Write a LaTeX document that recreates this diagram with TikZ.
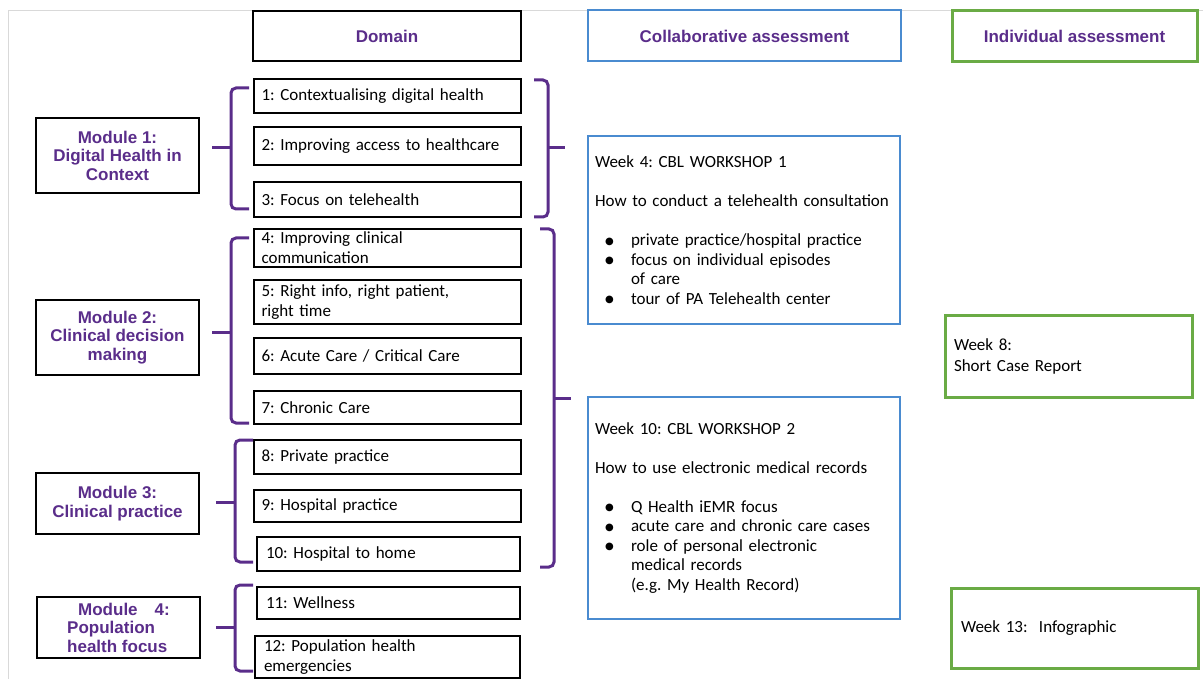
\documentclass[tikz,border=0pt]{standalone}
\usepackage{fontspec}
\setmainfont{Carlito}
\newfontfamily\headfont{Liberation Sans}
\newfontfamily\symfont{DejaVu Sans}
\frenchspacing
\definecolor{modpurple}{HTML}{5A2D8A}
\definecolor{colblue}{HTML}{4A8BD0}
\definecolor{indgreen}{HTML}{6AAB45}
\newcommand\bul{\hspace*{10pt}\makebox[26pt][l]{\raisebox{1.5pt}{\symfont\fontsize{10}{12}\selectfont ●}}}
\newcommand\bulind{\hspace*{36pt}}
\tikzset{
  head/.style={draw,line width=2pt,minimum height=50,text=modpurple,font=\headfont\bfseries\fontsize{17}{19}\selectfont},
  dom/.style={draw,line width=2pt,text width=251,inner xsep=8,inner ysep=0,align=left,font=\fontsize{17}{20}\selectfont},
  modbox/.style={draw,line width=2pt,minimum width=163,align=center,text=modpurple,font=\headfont\bfseries\fontsize{17}{18.5}\selectfont},
  week/.style={draw=colblue,line width=2pt,minimum width=312,text width=298,inner xsep=7,align=left,font=\fontsize{17}{19.5}\selectfont},
  task/.style={draw=indgreen,line width=3pt,align=left,font=\fontsize{17}{20.5}\selectfont},
  brk/.style={modpurple,line width=3pt,rounded corners=5}
}
\begin{document}
\begin{tikzpicture}[x=1pt,y=-1pt]
\useasboundingbox (0,0) rectangle (1203,679);
\draw[black!15,line width=1pt] (8,679) -- (8,10.5) -- (1203,10.5);
% headings
\node[head,minimum width=268] (domain) at (387,36) {Domain};
\node[head,draw=colblue,minimum width=313,minimum height=51] (collab) at (744.5,36) {Collaborative assessment};
\node[head,draw=indgreen,line width=3pt,minimum width=245,minimum height=51] (indiv) at (1074.5,36) {Individual assessment};
% modules
\node[modbox,minimum height=75] (m1) at (117.5,155.5) {Module 1:\\Digital Health in\\Context};
\node[modbox,minimum height=75] (m2) at (117.5,337.5) {Module 2:\\Clinical decision\\making};
\node[modbox,minimum height=61] (m3) at (117.5,503.5) {Module 3:\\Clinical practice};
\node[modbox,minimum height=61,align=left] (m4) at (118.5,627.5) {\hspace*{11pt}Module\hspace{17pt}4:\\Population\\health focus};
% domains
\node[dom,minimum height=34] (d1) at (387,96) {1: Contextualising digital health};
\node[dom,minimum height=38] (d2) at (387,146) {2: Improving access to healthcare};
\node[dom,minimum height=35] (d3) at (387,199.5) {3: Focus on telehealth};
\node[dom,minimum height=38] (d4) at (387,248) {4: Improving clinical\\communication};
\node[dom,minimum height=44] (d5) at (387,302) {5: Right info, right patient,\\right time};
\node[dom,minimum height=36] (d6) at (387,356) {6: Acute Care / Critical Care};
\node[dom,minimum height=33] (d7) at (387,407.5) {7: Chronic Care};
\node[dom,minimum height=34] (d8) at (387,457) {8: Private practice};
\node[dom,minimum height=32] (d9) at (387,506) {9: Hospital practice};
\node[dom,minimum height=34,text width=245,inner xsep=9] (d10) at (388.5,554) {10: Hospital to home};
\node[dom,minimum height=32,text width=245,inner xsep=9] (d11) at (388.5,603) {11: Wellness};
\node[dom,minimum height=42,text width=247,inner xsep=9] (d12) at (387.5,657) {12: Population health\\emergencies};
% brackets
\foreach \t/\m/\b/\x in {88/148/209/231, 238/332/423/231, 440/502/562/235, 585/627/671/235}{
  \draw[brk] (\x+18,\t) -- (\x,\t) -- (\x,\b) -- (\x+18,\b);
  \draw[brk] (\x,\m) -- (\x-19,\m);
}
\foreach \t/\m/\b/\x in {80/148/217/548, 229/398/567/554}{
  \draw[brk] (\x-14,\t) -- (\x,\t) -- (\x,\b) -- (\x-14,\b);
  \draw[brk] (\x,\m) -- (\x+17,\m);
}
% assessments
\node[week,minimum height=188] (w4) at (744,230) {Week 4: CBL WORKSHOP 1\\[19.5pt]
  How to conduct a telehealth consultation\\[19.5pt]
  \bul private practice/hospital practice\\
  \bul focus on individual episodes\\
  \bulind of care\\
  \bul tour of PA Telehealth center};
\node[week,minimum height=222] (w10) at (744,508) {Week 10: CBL WORKSHOP 2\\[19.5pt]
  How to use electronic medical records\\[19.5pt]
  \bul Q Health iEMR focus\\
  \bul acute care and chronic care cases\\
  \bul role of personal electronic\\
  \bulind medical records\\
  \bulind (e.g. My Health Record)};
\node[task,minimum height=81,text width=229,inner xsep=9] (w8) at (1068.5,356.5) {Week 8:\\Short Case Report};
\node[task,minimum height=80,text width=227,inner xsep=10] (w13) at (1074.5,628) {Week 13:~ Infographic};
\end{tikzpicture}
\end{document}
